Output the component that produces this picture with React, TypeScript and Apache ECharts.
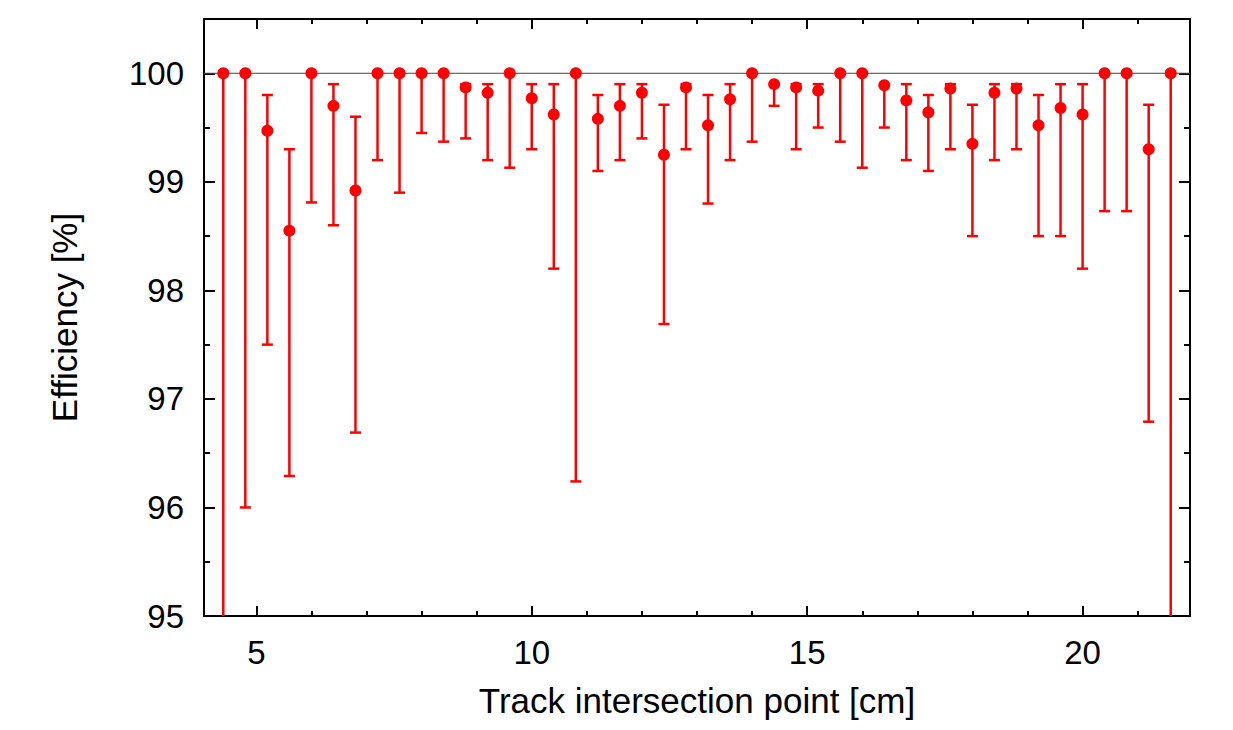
import React, { useEffect, useRef } from "react";
import * as echarts from "echarts";

const xPositions = [
  4.4, 4.8, 5.2, 5.6, 6.0, 6.4, 6.8, 7.2, 7.6, 8.0, 8.4, 8.8, 9.2, 9.6, 10.0,
  10.4, 10.8, 11.2, 11.6, 12.0, 12.4, 12.8, 13.2, 13.6, 14.0, 14.4, 14.8, 15.2,
  15.6, 16.0, 16.4, 16.8, 17.2, 17.6, 18.0, 18.4, 18.8, 19.2, 19.6, 20.0, 20.4,
  20.8, 21.2, 21.6,
];
const efficiency = [
  100, 100, 99.47, 98.55, 100, 99.7, 98.92, 100, 100, 100, 100, 99.87, 99.82,
  100, 99.77, 99.62, 100, 99.58, 99.7, 99.82, 99.25, 99.87, 99.52, 99.76, 100,
  99.9, 99.87, 99.84, 100, 100, 99.89, 99.75, 99.64, 99.86, 99.35, 99.82, 99.86,
  99.52, 99.68, 99.62, 100, 100, 99.3, 100,
];
const errLow = [
  94.0, 96.0, 97.5, 96.29, 98.81, 98.6, 96.69, 99.2, 98.9, 99.45, 99.37, 99.4,
  99.2, 99.13, 99.3, 98.2, 96.24, 99.1, 99.2, 99.4, 97.69, 99.3, 98.8, 99.2,
  99.37, 99.7, 99.3, 99.5, 99.37, 99.13, 99.5, 99.2, 99.1, 99.3, 98.5, 99.2,
  99.3, 98.5, 98.5, 98.2, 98.73, 98.73, 96.79, 94.0,
];
const errHigh = [
  100, 100, 99.8, 99.3, 100, 99.9, 99.6, 100, 100, 100, 100, 99.9, 99.9, 100,
  99.9, 99.9, 100, 99.8, 99.9, 99.9, 99.71, 99.9, 99.8, 99.9, 100, 99.9, 99.9,
  99.9, 100, 100, 99.89, 99.9, 99.8, 99.9, 99.71, 99.9, 99.9, 99.8, 99.9, 99.9,
  100, 100, 99.71, 100,
];

const xMajorTicks = [5, 10, 15, 20];
const xMinorTicks = [6, 7, 8, 9, 11, 12, 13, 14, 16, 17, 18, 19, 21];
const yMajorTicks = [95, 96, 97, 98, 99, 100];
const yMinorTicks = [95.5, 96.5, 97.5, 98.5, 99.5];
const referenceLevel = 100;

const X_MIN = 4.05;
const X_MAX = 21.95;
const Y_MIN = 95;
const Y_MAX = 100.5;

const FONT = "'Liberation Sans', Arial, Helvetica, sans-serif";
const RED = "#ff0000";

export default function App() {
  const ref = useRef<HTMLDivElement>(null);

  useEffect(() => {
    if (!ref.current) return;
    const chart = echarts.init(ref.current, null, { renderer: "svg" });

    const gridRect = { left: 204, top: 19, width: 986, height: 597 };

    const majorX = (pos: "bottom" | "top", showLabel: boolean) => ({
      type: "value",
      gridIndex: 0,
      position: pos,
      min: X_MIN,
      max: X_MAX,
      axisLine: { show: true, onZero: false, lineStyle: { color: "#000", width: 2 } },
      axisTick: {
        show: true,
        inside: true,
        length: 10,
        customValues: xMajorTicks,
        lineStyle: { color: "#000", width: 2 },
      },
      axisLabel: {
        show: showLabel,
        customValues: xMajorTicks,
        fontSize: 33,
        fontFamily: FONT,
        color: "#000",
        margin: 20,
      },
      splitLine: { show: false },
      ...(showLabel
        ? {
            name: "Track intersection point [cm]",
            nameLocation: "middle",
            nameGap: 67,
            nameTextStyle: { fontSize: 35, fontFamily: FONT, color: "#000" },
          }
        : {}),
    });

    const minorX = (pos: "bottom" | "top") => ({
      type: "value",
      gridIndex: 1,
      position: pos,
      min: X_MIN,
      max: X_MAX,
      axisLine: { show: false, onZero: false },
      axisTick: {
        show: true,
        inside: true,
        length: 5,
        customValues: xMinorTicks,
        lineStyle: { color: "#000", width: 2 },
      },
      axisLabel: { show: false },
      splitLine: { show: false },
    });

    const majorY = (pos: "left" | "right", showLabel: boolean) => ({
      type: "value",
      gridIndex: 0,
      position: pos,
      min: Y_MIN,
      max: Y_MAX,
      axisLine: { show: true, onZero: false, lineStyle: { color: "#000", width: 2 } },
      axisTick: {
        show: true,
        inside: true,
        length: 11,
        customValues: yMajorTicks,
        lineStyle: { color: "#000", width: 2 },
      },
      axisLabel: {
        show: showLabel,
        customValues: yMajorTicks,
        fontSize: 33,
        fontFamily: FONT,
        color: "#000",
        margin: 20,
      },
      splitLine: { show: false },
      ...(showLabel
        ? {
            name: "Efficiency [%]",
            nameLocation: "middle",
            nameGap: 122,
            nameTextStyle: { fontSize: 35, fontFamily: FONT, color: "#000" },
          }
        : {}),
    });

    const minorY = (pos: "left" | "right") => ({
      type: "value",
      gridIndex: 1,
      position: pos,
      min: Y_MIN,
      max: Y_MAX,
      axisLine: { show: false, onZero: false },
      axisTick: {
        show: true,
        inside: true,
        length: 6,
        customValues: yMinorTicks,
        lineStyle: { color: "#000", width: 2 },
      },
      axisLabel: { show: false },
      splitLine: { show: false },
    });

    const errData = xPositions.map((x, i) => [x, errLow[i], errHigh[i], efficiency[i]]);
    const pointData = xPositions.map((x, i) => [x, efficiency[i]]);

    chart.setOption({
      animation: false,
      backgroundColor: "#fff",
      grid: [
        { ...gridRect, containLabel: false },
        { ...gridRect, containLabel: false },
      ],
      xAxis: [majorX("bottom", true), majorX("top", false), minorX("bottom"), minorX("top")],
      yAxis: [majorY("left", true), majorY("right", false), minorY("left"), minorY("right")],
      series: [
        {
          type: "line",
          xAxisIndex: 0,
          yAxisIndex: 0,
          data: [
            [X_MIN, referenceLevel],
            [X_MAX, referenceLevel],
          ],
          symbol: "none",
          lineStyle: { color: "#444", width: 1 },
          silent: true,
          z: 1,
        },
        {
          type: "custom",
          xAxisIndex: 0,
          yAxisIndex: 0,
          data: errData,
          z: 2,
          renderItem: (params: any, api: any) => {
            const x = api.value(0);
            const lo = api.value(1);
            const hi = api.value(2);
            const v = api.value(3);
            const cs = params.coordSys;
            const bottom = cs.y + cs.height;
            const pLo = api.coord([x, lo]);
            const pHi = api.coord([x, hi]);
            let yLo = pLo[1];
            let capLo = true;
            if (yLo > bottom) {
              yLo = bottom;
              capLo = false;
            }
            const hw = 5.5;
            const style = { stroke: RED, lineWidth: 2.5 };
            const children: any[] = [
              { type: "line", shape: { x1: pLo[0], y1: yLo, x2: pHi[0], y2: pHi[1] }, style },
            ];
            if (capLo && lo < v) {
              children.push({
                type: "line",
                shape: { x1: pLo[0] - hw, y1: yLo, x2: pLo[0] + hw, y2: yLo },
                style,
              });
            }
            if (hi > v) {
              children.push({
                type: "line",
                shape: { x1: pHi[0] - hw, y1: pHi[1], x2: pHi[0] + hw, y2: pHi[1] },
                style,
              });
            }
            return { type: "group", children };
          },
        },
        {
          type: "scatter",
          xAxisIndex: 0,
          yAxisIndex: 0,
          data: pointData,
          symbol: "circle",
          symbolSize: 12,
          itemStyle: { color: RED, opacity: 1 },
          z: 3,
        },
      ],
    });

    return () => chart.dispose();
  }, []);

  return (
    <div
      ref={ref}
      style={{ position: "fixed", left: 0, top: 0, width: 1233, height: 730, background: "#fff" }}
    />
  );
}
